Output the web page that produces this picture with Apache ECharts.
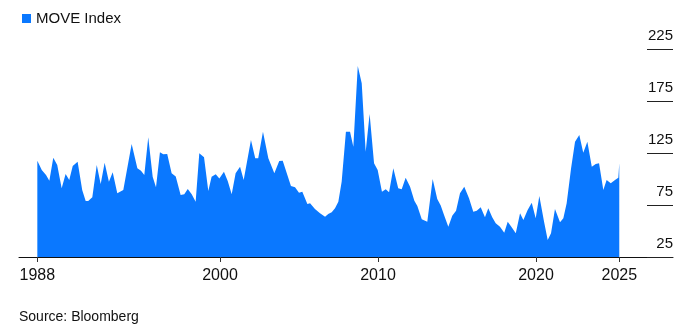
<!DOCTYPE html>
<html>
<head>
<meta charset="utf-8">
<script src="https://cdn.jsdelivr.net/npm/echarts@6/dist/echarts.min.js"></script>
<style>
  html, body { margin: 0; padding: 0; background: #fff; }
  #chart { width: 680px; height: 329px; }
</style>
</head>
<body>
<div id="chart"></div>
<script>
// Decimal-year dates
const dates = [
  1988.44, 1988.72, 1988.99, 1989.20, 1989.45, 1989.70, 1989.98, 1990.23, 1990.46, 1990.68,
  1990.99, 1991.28, 1991.50, 1991.66, 1991.92, 1992.20, 1992.45, 1992.70, 1992.97, 1993.21,
  1993.50, 1993.88, 1994.41, 1994.77, 1995.00, 1995.21, 1995.46, 1995.74, 1995.95, 1996.20,
  1996.41, 1996.66, 1996.94, 1997.20, 1997.51, 1997.74, 1997.96, 1998.21, 1998.46, 1998.69,
  1998.99, 1999.26, 1999.47, 1999.73, 1999.96, 2000.25, 2000.49, 2000.74, 2000.99, 2001.27,
  2001.50, 2001.96, 2002.23, 2002.42, 2002.72, 2003.06, 2003.44, 2003.75, 2003.97, 2004.49,
  2004.75, 2005.00, 2005.21, 2005.53, 2005.70, 2006.01, 2006.33, 2006.65, 2006.85, 2007.07,
  2007.28, 2007.49, 2007.70, 2007.97, 2008.23, 2008.44, 2008.72, 2008.97, 2009.22, 2009.47,
  2009.75, 2009.98, 2010.25, 2010.49, 2010.70, 2010.97, 2011.28, 2011.50, 2011.75, 2012.03,
  2012.30, 2012.49, 2012.77, 2013.12, 2013.46, 2013.75, 2013.97, 2014.18, 2014.45, 2014.70,
  2014.94, 2015.19, 2015.46, 2015.76, 2016.03, 2016.25, 2016.50, 2016.77, 2016.98, 2017.23,
  2017.45, 2017.72, 2017.99, 2018.21, 2018.46, 2018.72, 2018.99, 2019.20, 2019.47, 2019.73,
  2019.98, 2020.21, 2020.51, 2020.74, 2020.95, 2021.20, 2021.52, 2021.73, 2021.94, 2022.22,
  2022.47, 2022.74, 2022.99, 2023.25, 2023.53, 2023.78, 2023.99, 2024.26, 2024.47, 2024.73,
  2025.00, 2025.21, 2025.27
];
// MOVE Index values
const moveValues = [
  117.6, 108.7, 103.8, 98.4, 120.5, 113.5, 91.0, 104.8, 99.0, 112.5,
  116.7, 89.4, 78.8, 78.8, 82.4, 113.5, 95.2, 115.7, 97.4, 106.4,
  86.2, 89.4, 133.7, 110.3, 108.0, 103.8, 140.1, 102.2, 92.0, 125.7,
  123.7, 124.0, 105.5, 102.5, 84.6, 85.3, 90.4, 85.3, 78.2, 124.7,
  120.8, 88.5, 102.2, 104.5, 100.6, 107.0, 98.1, 85.3, 105.5, 111.8,
  99.0, 137.5, 119.9, 119.9, 145.5, 119.9, 105.5, 117.3, 117.6, 93.3,
  92.0, 86.8, 87.8, 76.0, 76.6, 71.2, 67.0, 63.8, 66.3, 68.0,
  71.8, 78.2, 97.4, 145.5, 145.5, 131.0, 208.7, 192.0, 126.3, 162.5,
  115.1, 108.7, 87.8, 90.1, 87.2, 110.3, 91.0, 90.1, 101.3, 92.6,
  79.1, 74.0, 61.2, 59.0, 100.0, 80.8, 74.4, 65.4, 54.1, 64.7,
  69.5, 86.2, 92.6, 81.4, 68.6, 69.5, 72.8, 63.2, 71.8, 63.2,
  57.4, 54.1, 48.4, 59.0, 53.5, 47.8, 67.0, 60.6, 70.2, 77.2,
  62.2, 83.7, 59.0, 41.3, 47.8, 71.2, 58.4, 62.2, 76.6, 110.3,
  135.9, 142.3, 125.3, 135.9, 111.8, 114.4, 115.1, 89.4, 99.0, 95.9,
  99.0, 101.3, 115.1
];
// X-axis tick positions and labels
const xTickValues = [1988.44, 2000, 2010, 2020, 2025.27];
const xTickLabels = ['1988', '2000', '2010', '2020', '2025'];
// Y-axis ticks
const yTicks = [25, 75, 125, 175, 225];

const seriesData = dates.map((d, i) => [d, moveValues[i]]);
const blue = '#0a78ff';
const font = '"Liberation Sans", Arial, sans-serif';

const chart = echarts.init(document.getElementById('chart'), null, { renderer: 'canvas' });
chart.setOption({
  animation: false,
  backgroundColor: '#ffffff',
  textStyle: { fontFamily: font },
  legend: {
    show: true,
    left: 17,
    top: 6,
    icon: 'rect',
    itemWidth: 9,
    itemHeight: 9,
    itemGap: 6,
    textStyle: { fontFamily: font, fontSize: 15, color: '#111' },
    data: [{ name: 'MOVE Index', itemStyle: { color: blue } }]
  },
  graphic: [{
    type: 'text',
    left: 19,
    top: 310,
    style: { text: 'Source: Bloomberg', font: '14px ' + font, fill: '#111' }
  }],
  grid: { left: 19, right: 7, top: 49, bottom: 72 },
  xAxis: {
    type: 'value',
    min: 1987.28,
    max: 2028.67,
    splitLine: { show: false },
    axisLine: { show: true, lineStyle: { color: '#111', width: 1 } },
    axisTick: { show: true, length: 5, customValues: xTickValues, lineStyle: { color: '#333' } },
    axisLabel: {
      customValues: xTickValues,
      margin: 11,
      fontSize: 16,
      color: '#111',
      fontFamily: font,
      formatter: function (v) {
        let best = 0;
        for (let i = 1; i < xTickValues.length; i++) {
          if (Math.abs(xTickValues[i] - v) < Math.abs(xTickValues[best] - v)) best = i;
        }
        return xTickLabels[best];
      }
    }
  },
  yAxis: {
    type: 'value',
    position: 'right',
    min: yTicks[0],
    max: yTicks[yTicks.length - 1],
    interval: 50,
    splitLine: { show: false },
    axisLine: { show: false },
    axisTick: { show: true, inside: true, length: 26, lineStyle: { color: '#222', width: 1 } },
    axisLabel: {
      inside: true,
      margin: 0,
      fontSize: 15,
      color: '#111',
      fontFamily: font,
      verticalAlign: 'bottom',
      lineHeight: 15,
      padding: [0, 0, 6, 0]
    }
  },
  series: [{
    name: 'MOVE Index',
    type: 'line',
    data: seriesData,
    showSymbol: false,
    symbol: 'none',
    color: blue,
    lineStyle: { width: 0, color: blue },
    areaStyle: { color: blue, opacity: 1, origin: 'start' },
    z: 1
  }]
});
</script>
</body>
</html>
